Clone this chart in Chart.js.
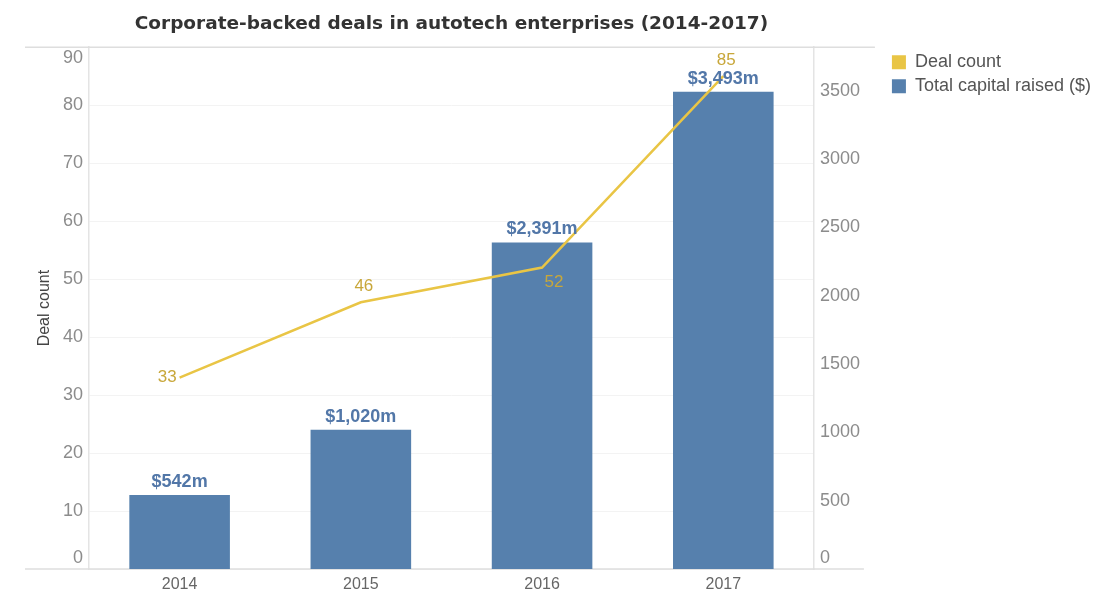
<!DOCTYPE html>
<html>
<head>
<meta charset="utf-8">
<title>Corporate-backed deals in autotech enterprises (2014-2017)</title>
<script src="https://cdn.jsdelivr.net/npm/chart.js@4.4.1/dist/chart.umd.min.js"></script>
<style>
  html, body { margin: 0; padding: 0; background: #ffffff; }
  #wrap { position: relative; width: 1108px; height: 593px; }
</style>
</head>
<body>
<div id="wrap"><canvas id="chart" width="1108" height="593"></canvas></div>
<script>
// Years on the category axis
const years = ['2014', '2015', '2016', '2017'];
// Number of corporate-backed deals per year (left axis)
const dealCount = [33, 46, 52, 85];
// Total capital raised per year, $ millions (right axis)
const capitalRaised = [542, 1020, 2391, 3493];
// Axis ranges and tick values
const dealRange = { min: 0, max: 90 };
const dealTickValues = [0, 10, 20, 30, 40, 50, 60, 70, 80, 90];
const capitalRange = { min: 0, max: 3820 };
const capitalTickValues = [0, 500, 1000, 1500, 2000, 2500, 3000, 3500];
// Where each deal-count label sits relative to its point
const dealLabelPlacement = ['left', 'above', 'below', 'above'];

const BLUE = '#5680ad';
const BLUE_TEXT = '#5277a8';
const GOLD = '#e9c545';
const GOLD_TEXT = '#c8a73a';
const SANS = "'Liberation Sans', Arial, sans-serif";

// Tick labels at the very ends of an axis are nudged inside the plot
// by padding them with an empty line on the outer side.
function edgeAwareLabel(value, range) {
  if (value === range.max) return ['', String(value)];
  if (value === range.min) return [String(value), ''];
  return String(value);
}

// Value axes: fixed gutter width, and no extra room reserved for edge labels
function fitValueAxis(width) {
  return axis => {
    axis.width = width;
    axis.paddingTop = 0;
    axis.paddingBottom = 0;
  };
}

// Value labels above the bars and next to the line points
const valueLabels = {
  id: 'valueLabels',
  afterDatasetsDraw(chart) {
    const ctx = chart.ctx;
    ctx.save();
    chart.data.datasets.forEach((ds, di) => {
      const meta = chart.getDatasetMeta(di);
      if (meta.hidden) return;
      meta.data.forEach((el, i) => {
        const v = ds.data[i];
        if (meta.type === 'bar') {
          ctx.font = 'bold 18px ' + SANS;
          ctx.fillStyle = BLUE_TEXT;
          ctx.textAlign = 'center';
          ctx.textBaseline = 'middle';
          ctx.fillText('$' + v.toLocaleString('en-US') + 'm', el.x, el.y - 13);
        } else {
          ctx.font = '17px ' + SANS;
          ctx.fillStyle = GOLD_TEXT;
          ctx.textBaseline = 'middle';
          const where = dealLabelPlacement[i];
          if (where === 'left') {
            ctx.textAlign = 'right';
            ctx.fillText(String(v), el.x - 3, el.y);
          } else if (where === 'below') {
            ctx.textAlign = 'center';
            ctx.fillText(String(v), el.x + 12, el.y + 15);
          } else {
            ctx.textAlign = 'center';
            ctx.fillText(String(v), el.x + 3, el.y - 16);
          }
        }
      });
    });
    ctx.restore();
  }
};

// Top and bottom rules that run past the plot into the axis gutters
const frameRules = {
  id: 'frameRules',
  beforeDatasetsDraw(chart) {
    const { ctx, chartArea } = chart;
    ctx.save();
    ctx.strokeStyle = '#dedede';
    ctx.lineWidth = 1.5;
    ctx.beginPath();
    ctx.moveTo(chartArea.left - 64, chartArea.top);
    ctx.lineTo(chartArea.right + 61, chartArea.top);
    ctx.moveTo(chartArea.left - 64, chartArea.bottom);
    ctx.lineTo(chartArea.right + 50, chartArea.bottom);
    ctx.stroke();
    ctx.restore();
  }
};

new Chart(document.getElementById('chart'), {
  data: {
    labels: years,
    datasets: [
      {
        type: 'line',
        label: 'Deal count',
        data: dealCount,
        yAxisID: 'yDeals',
        borderColor: GOLD,
        backgroundColor: GOLD,
        borderWidth: 2.5,
        tension: 0,
        pointRadius: 0,
        pointHoverRadius: 0,
        order: 0
      },
      {
        type: 'bar',
        label: 'Total capital raised ($)',
        data: capitalRaised,
        yAxisID: 'yCapital',
        backgroundColor: BLUE,
        borderWidth: 0,
        categoryPercentage: 1,
        barPercentage: 0.555,
        order: 1
      }
    ]
  },
  options: {
    responsive: false,
    animation: false,
    layout: { padding: { top: 11, left: 31, right: 7, bottom: 0 } },
    plugins: {
      title: {
        display: true,
        fullSize: false,
        text: 'Corporate-backed deals in autotech enterprises (2014-2017)',
        color: '#333333',
        font: { family: "'DejaVu Sans', sans-serif", size: 18.5, weight: 'bold' },
        padding: { top: 2, bottom: 12 }
      },
      legend: {
        position: 'right',
        align: 'start',
        fullSize: false,
        maxWidth: 320,
        labels: {
          boxWidth: 14,
          boxHeight: 14,
          padding: 6,
          color: '#555555',
          font: { family: SANS, size: 18 },
          generateLabels(chart) {
            const items = Chart.defaults.plugins.legend.labels.generateLabels(chart);
            return items.map(it => Object.assign(it, { lineWidth: 0, strokeStyle: 'transparent' }));
          }
        }
      },
      tooltip: { enabled: false }
    },
    scales: {
      x: {
        afterFit(axis) { axis.height = 24; },
        grid: { display: false, drawTicks: false },
        border: { display: false },
        ticks: { color: '#666666', font: { family: SANS, size: 16 }, padding: 6 }
      },
      yDeals: {
        type: 'linear',
        position: 'left',
        min: dealRange.min,
        max: dealRange.max,
        afterFit: fitValueAxis(58),
        afterBuildTicks(axis) { axis.ticks = dealTickValues.map(v => ({ value: v })); },
        ticks: {
          color: '#8c8c8c',
          font: { family: SANS, size: 18 },
          padding: 6,
          callback: v => edgeAwareLabel(v, dealRange)
        },
        grid: { color: '#f3f3f3', drawTicks: false },
        border: { color: '#e4e4e4', width: 1.5 },
        title: {
          display: true,
          text: 'Deal count',
          color: '#444444',
          font: { family: SANS, size: 16 },
          padding: { top: 4, bottom: 4 }
        }
      },
      yCapital: {
        type: 'linear',
        position: 'right',
        min: capitalRange.min,
        max: capitalRange.max,
        afterFit: fitValueAxis(72),
        afterBuildTicks(axis) { axis.ticks = capitalTickValues.map(v => ({ value: v })); },
        ticks: {
          color: '#8c8c8c',
          font: { family: SANS, size: 18 },
          padding: 6,
          callback: v => edgeAwareLabel(v, capitalRange)
        },
        grid: { display: false, drawTicks: false },
        border: { color: '#e4e4e4', width: 1.5 }
      }
    }
  },
  plugins: [frameRules, valueLabels]
});
</script>
</body>
</html>
